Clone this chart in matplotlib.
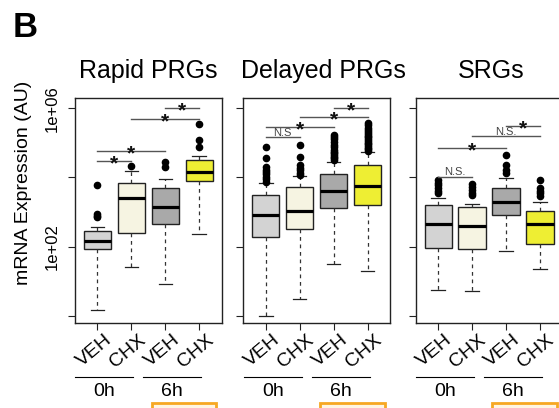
import numpy as np
import matplotlib.pyplot as plt
import matplotlib.transforms as mtransforms
from matplotlib.patches import Rectangle

plt.rcParams['font.family'] = ['Liberation Sans', 'DejaVu Sans']

# Labels
panel_titles = ["Rapid PRGs", "Delayed PRGs", "SRGs"]
treatments = ["VEH", "CHX", "VEH", "CHX"]
timepoints = ["0h", "6h"]
box_colors = ["#D3D3D3", "#F6F4E2", "#A9A9A9", "#EEEE33"]

# Box stats as log10(expression)
rapid_whislo = [0.18, 1.42, 0.91, 2.37]
rapid_q1 = [1.93, 2.39, 2.65, 3.91]
rapid_med = [2.16, 3.40, 3.15, 4.17]
rapid_q3 = [2.46, 3.85, 3.69, 4.50]
rapid_whishi = [2.56, 4.18, 3.97, 4.63]
rapid_fliers = [[2.86, 2.90, 2.94, 3.77], [4.34], [4.30, 4.46], [4.88, 5.09, 5.56]]

delayed_whislo = [0.00, 0.48, 1.51, 1.29]
delayed_q1 = [2.27, 2.50, 3.12, 3.21]
delayed_med = [2.92, 3.04, 3.61, 3.76]
delayed_q3 = [3.49, 3.72, 4.09, 4.35]
delayed_whishi = [3.84, 4.03, 4.45, 4.74]
delayed_fliers = [[3.88, 3.95, 4.02, 4.09, 4.16, 4.23, 4.31, 4.55, 4.89],
                  [4.07, 4.14, 4.21, 4.28, 4.35, 4.58, 4.95],
                  [4.50, 4.55, 4.60, 4.65, 4.70, 4.75, 4.80, 4.87, 4.95, 5.02, 5.10, 5.18, 5.24],
                  [4.76, 4.81, 4.86, 4.91, 4.96, 5.01, 5.06, 5.11, 5.16, 5.21, 5.26, 5.31,
                   5.37, 5.44, 5.51, 5.59]]

srg_whislo = [0.75, 0.71, 1.87, 1.36]
srg_q1 = [1.96, 1.93, 2.91, 2.07]
srg_med = [2.66, 2.61, 3.30, 2.64]
srg_q3 = [3.19, 3.14, 3.70, 3.04]
srg_whishi = [3.42, 3.23, 3.99, 3.30]
srg_fliers = [[3.54, 3.62, 3.70, 3.78, 3.85, 3.92],
              [3.48, 3.56, 3.64, 3.72, 3.80],
              [4.14, 4.23, 4.35, 4.66],
              [3.46, 3.54, 3.62, 3.70, 3.92]]

# Significance brackets: (box a, box b, log10 height, label)
rapid_sig = [(1, 2, 4.48, "*"), (1, 3, 4.77, "*"), (2, 4, 5.70, "*"), (3, 4, 6.00, "*")]
delayed_sig = [(1, 2, 5.17, "N.S"), (1, 3, 5.47, "*"), (2, 4, 5.74, "*"), (3, 4, 6.00, "*")]
srg_sig = [(1, 2, 4.02, "N.S."), (1, 3, 4.85, "*"), (2, 4, 5.19, "N.S."), (3, 4, 5.50, "*")]

panels = [
    (rapid_whislo, rapid_q1, rapid_med, rapid_q3, rapid_whishi, rapid_fliers, rapid_sig),
    (delayed_whislo, delayed_q1, delayed_med, delayed_q3, delayed_whishi, delayed_fliers, delayed_sig),
    (srg_whislo, srg_q1, srg_med, srg_q3, srg_whishi, srg_fliers, srg_sig),
]

W, H = 559, 408
fig = plt.figure(figsize=(W / 100, H / 100), dpi=100)

lefts = [75, 243.3, 415.7]
title_x = [148.3, 323.3, 490.8]
ax_w, ax_top, ax_bot = 146.7, 98, 323
pos = [1, 2, 3, 4]

for k, (lo, q1, med, q3, hi, fl, sig) in enumerate(panels):
    ax = fig.add_axes([lefts[k] / W, 1 - ax_bot / H, ax_w / W, (ax_bot - ax_top) / H])
    ax.set_yscale('log')
    stats = []
    for i in range(4):
        stats.append(dict(whislo=10 ** lo[i], q1=10 ** q1[i], med=10 ** med[i], q3=10 ** q3[i],
                          whishi=10 ** hi[i], fliers=10 ** np.array(fl[i])))
    bp = ax.bxp(stats, positions=pos, widths=0.8, patch_artist=True,
                boxprops=dict(edgecolor='#222222', linewidth=1.0),
                medianprops=dict(color='black', linewidth=2.3, solid_capstyle='butt'),
                whiskerprops=dict(color='#333333', linewidth=0.9, linestyle=(0, (3, 3))),
                capprops=dict(color='#222222', linewidth=0.9),
                flierprops=dict(marker='o', markerfacecolor='black', markeredgecolor='black',
                                markersize=4.5))
    for patch, c in zip(bp['boxes'], box_colors):
        patch.set_facecolor(c)

    ax.set_xlim(0.34, 4.66)
    ax.set_ylim(10 ** -0.21, 10 ** 6.30)
    ax.minorticks_off()
    ax.set_yticks([1, 1e2, 1e4, 1e6])
    if k == 0:
        ax.set_yticklabels(['', '1e+02', '', '1e+06'], rotation=90, va='center', fontsize=12)
        up = mtransforms.ScaledTranslation(0, 9 / 100, fig.dpi_scale_trans)
        for lab in ax.get_yticklabels():
            lab.set_transform(lab.get_transform() + up)
    else:
        ax.set_yticklabels([])
    ax.set_xticks(pos)
    ax.set_xticklabels([])
    ax.tick_params(length=5, width=0.8, color='#222222', pad=6)
    for s in ax.spines.values():
        s.set_linewidth(1.0)
        s.set_color('#222222')

    blend = mtransforms.blended_transform_factory(ax.transData, ax.transAxes)
    for p, t in zip(pos, treatments):
        tr = mtransforms.offset_copy(blend, fig=fig, x=12, y=-15, units='dots')
        ax.text(p, 0, t, transform=tr, rotation=40, rotation_mode='anchor',
                ha='right', va='center', fontsize=14)

    for g, t in enumerate(timepoints):
        a, b = 2 * g + 1, 2 * g + 2
        ax.plot([a - 0.65, b + 0.06], [-0.241, -0.241], transform=blend, color='black',
                lw=0.8, clip_on=False)
        ax.text((a + b) / 2 - 0.295, -0.305, t, transform=blend, ha='center', va='center',
                fontsize=14)
    ax.add_patch(Rectangle((2.6, -0.75), 1.9, 0.393, transform=blend, facecolor='#FFF6E3',
                           edgecolor='#F7A823', lw=2, clip_on=False))

    for a, b, lvl, lab in sig:
        y = 10 ** lvl
        ax.plot([a, b], [y, y], color='#555555', lw=1.0)
        if lab == "*":
            ax.annotate(lab, ((a + b) / 2, y), xytext=(0, -6), textcoords='offset points',
                        ha='center', va='baseline', fontsize=15, fontweight='bold',
                        color='#111111')
        else:
            ax.annotate(lab, ((a + b) / 2, y), xytext=(0, 1), textcoords='offset points',
                        ha='center', va='baseline', fontsize=8, color='#444444')

    fig.text(title_x[k] / W, 1 - 78.3 / H, panel_titles[k], ha='center', va='baseline',
             fontsize=18)

fig.text(24 / W, 1 - 183.3 / H, 'mRNA Expression (AU)', rotation=90, ha='center',
         va='center', fontsize=14)
fig.text(13 / W, 1 - 36.7 / H, 'B', fontweight='bold', fontsize=25, ha='left', va='baseline')

fig.savefig('out.png', dpi=100)
